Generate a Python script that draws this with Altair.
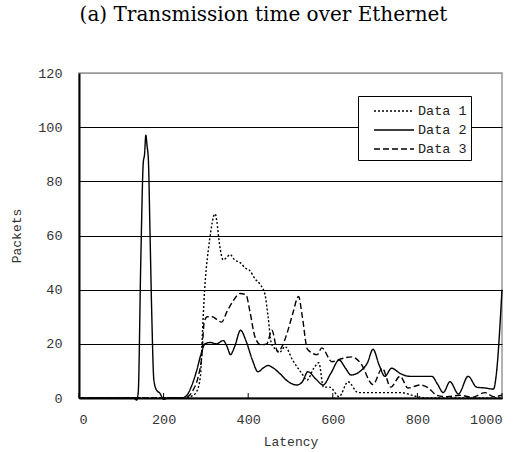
import altair as alt
import pandas as pd

# ---- data ----
series_names = ["Data 1", "Data 2", "Data 3"]

d1_x = [0, 250, 270, 278, 287, 293, 297, 301, 306, 312, 318, 322, 326, 332, 341, 350, 357, 368, 381,
        393, 404, 416, 428, 440, 447, 455, 465, 475, 487, 505, 527, 539, 555, 567, 578, 593, 615,
        636, 660, 690, 720, 760, 800, 830, 1000]
d1_y = [0, 0, 1, 2.3, 8, 28, 40, 48, 55, 62, 67, 68, 65, 57, 51, 52, 53, 51, 50,
        48, 47, 44, 42, 38, 30, 20, 18, 17, 19, 14, 9, 6.6, 11, 13, 4, 4, 0.5,
        6, 2, 2, 2, 2, 0.5, 0, 0]

d2_x = [0, 130, 136, 140, 146, 152, 155, 158, 161, 164, 168, 172, 177, 183, 191, 200, 210,
        243, 255, 265, 278, 288, 298, 310, 325, 341, 350, 358, 368, 382, 395, 410, 423, 435,
        447, 460, 475, 495, 515, 528, 541, 560, 577, 595, 615, 630, 643, 668, 682, 695, 710,
        723, 739, 760, 782, 800, 834, 848, 861, 877, 897, 920, 940, 960, 980, 986, 1000]
d2_y = [0, 0, -0.8, 2, 50, 87, 90, 97, 93, 88, 60, 31, 6.6, 3, 1.8, -0.5, 0,
        0, 1, 4, 10, 16, 20, 20.5, 20, 21.2, 19, 16, 19, 25, 21, 14, 9.7, 11,
        12, 11, 9, 6, 4.8, 6, 9.7, 7, 4.8, 9, 14, 11, 8.5, 10.3, 13, 18, 12,
        8, 11, 9, 8, 8, 8, 5, 2, 6, 1.5, 8, 4, 3.7, 3.3, 8, 40]

d3_x = [0, 250, 270, 282, 290, 296, 303, 315, 326, 337, 350, 365, 381, 395, 404, 416, 430,
        444, 456, 470, 480, 492, 505, 519, 528, 540, 563, 574, 598, 620, 645, 665, 695, 717,
        737, 759, 778, 806, 826, 846, 870, 900, 930, 960, 980, 1000]
d3_y = [0, 0, 3, 8, 15, 28, 30, 30, 29, 28, 32, 36, 38.6, 38, 32, 22.6, 19.6,
        20, 25, 17, 19, 24, 31, 37.5, 30, 18, 16, 18.5, 13.4, 14.5, 15.2, 13, 5, 11,
        4, 8, 3.7, 4.8, 3.7, 1, 0.5, 1, 0.3, 2, 0.5, 1]

x_ticks = [0, 200, 400, 600, 800, 1000]
y_ticks = [0, 20, 40, 60, 80, 100, 120]

rows = []
for name, xs, ys in zip(series_names, [d1_x, d2_x, d3_x], [d1_y, d2_y, d3_y]):
    for i, (a, b) in enumerate(zip(xs, ys)):
        rows.append({"series": name, "latency": a, "packets": b, "order": i})
df = pd.DataFrame(rows)
ticks_df = pd.DataFrame({"t": x_ticks})

mono = "Liberation Mono"

x_scale = alt.Scale(domain=[0, 1000], nice=False)
y_scale = alt.Scale(domain=[0, 120], nice=False)

lines = alt.Chart(df).mark_line(interpolate="monotone", strokeWidth=1.4, color="black", clip=False).encode(
    x=alt.X("latency:Q", scale=x_scale,
            axis=alt.Axis(values=x_ticks, format="d", title="Latency", grid=False, ticks=False,
                          labelPadding=14, titlePadding=10,
                          domainColor="black", domainWidth=2)),
    y=alt.Y("packets:Q", scale=y_scale,
            axis=alt.Axis(values=y_ticks, format="d", title="Packets", grid=True, ticks=False,
                          gridColor={"condition": {"test": "datum.value === 120", "value": "#999999"},
                                     "value": "black"},
                          gridWidth=1.2,
                          labelPadding=17, titlePadding=14,
                          domainColor="black", domainWidth=2)),
    strokeDash=alt.StrokeDash(
        "series:N",
        scale=alt.Scale(domain=series_names, range=[[2, 2], [1, 0], [6, 3]]),
        legend=alt.Legend(title=None, orient="none", legendX=279, legendY=23,
                          symbolType="M0.1,0H4.1", symbolSize=400, symbolStrokeWidth=1.6,
                          symbolStrokeColor="black", symbolFillColor="transparent",
                          labelFont=mono, labelFontSize=13.5, labelColor="#222",
                          labelOffset=34, padding=4, rowPadding=1,
                          fillColor="white", strokeColor="black"),
    ),
    detail="series:N",
    order="order:Q",
)

tick_marks = alt.Chart(ticks_df).mark_rule(color="black", strokeWidth=1).encode(
    x=alt.X("t:Q", scale=x_scale),
    y=alt.value(325),
    y2=alt.value(320),
)

chart = alt.layer(lines, tick_marks).properties(
    width=423, height=325,
    autosize=alt.AutoSizeParams(type="none"),
    padding={"left": 79, "top": 73, "right": 24, "bottom": 54},
    title=alt.TitleParams("(a) Transmission time over Ethernet", font="DejaVu Serif",
                          fontSize=20, fontWeight="normal", color="black",
                          anchor="middle", baseline="alphabetic", offset=25, dx=-27),
).configure_view(stroke="#999999", strokeWidth=1.5).configure_axis(
    labelFont=mono, labelFontSize=13.5, labelColor="#333",
    titleFont=mono, titleFontSize=13, titleFontWeight="normal", titleColor="#333",
)

chart.save("out.html", embed_options={"renderer": "svg", "actions": False})
